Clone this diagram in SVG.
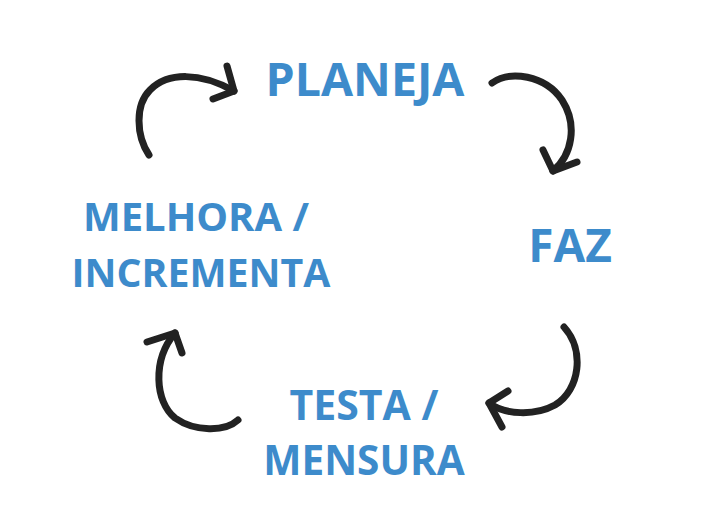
<svg xmlns="http://www.w3.org/2000/svg" width="724" height="519" viewBox="0 0 724 519">
<style>
.t{font-family:"Open Sans","Liberation Sans",sans-serif;font-weight:700;fill:#3d8bcb;text-anchor:middle}
.a{fill:none;stroke:#222;stroke-width:7;stroke-linecap:round;stroke-linejoin:round}
</style>
<rect width="724" height="519" fill="#fff"/>
<g id="planeja"><text class="t" x="365" y="96" font-size="46.5">PLANEJA</text></g>
<g id="faz"><text class="t" x="570" y="262" font-size="46">FAZ</text></g>
<g id="testa"><text class="t" x="364" y="420" font-size="41">TESTA /</text><text class="t" x="364" y="475" font-size="40.5">MENSURA</text></g>
<g id="melhora"><text class="t" x="196" y="231" font-size="40">MELHORA /</text><text class="t" x="201" y="287" font-size="39.3">INCREMENTA</text></g>
<g id="connectors">
<path class="a" d="M149,155 C136,135 135,105 150,90 C168,72 200,72 234,91"/>
<path class="a" d="M227,66 L234,91 L213,99"/>
<path class="a" d="M492,83 C510,70 545,75 562,100 C578,125 572,155 553,171"/>
<path class="a" d="M543,150 L553,171 L577,162"/>
<path class="a" d="M564,327 C585,350 580,390 555,405 C535,416 505,415 489,403"/>
<path class="a" d="M508,391 L489,403 L502,427"/>
<path class="a" d="M238,420 C225,432 195,432 175,418 C155,402 152,360 175,333"/>
<path class="a" d="M147,342 L175,333 L182,353"/>
</g>
</svg>
